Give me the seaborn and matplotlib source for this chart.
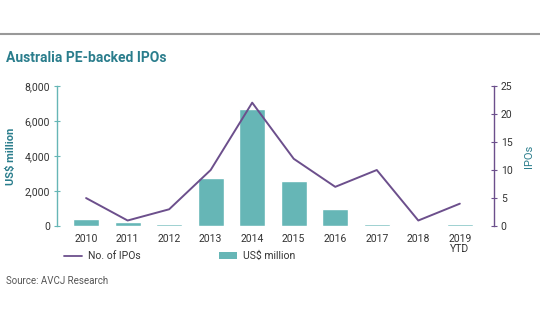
import matplotlib
matplotlib.use("Agg")
import matplotlib.pyplot as plt
import seaborn as sns
import pandas as pd
from matplotlib.lines import Line2D
from matplotlib.patches import Patch

years = ["2010", "2011", "2012", "2013", "2014", "2015", "2016", "2017", "2018", "2019\nYTD"]
usd_million = [430, 210, 130, 2740, 6690, 2570, 980, 120, 0, 120]
no_of_ipos = [5, 1, 3, 10, 22, 12, 7, 10, 1, 4]
left_ticks = [0, 2000, 4000, 6000, 8000]
right_ticks = [0, 5, 10, 15, 20, 25]

TEAL = "#66b6b6"
PURPLE = "#6c4f8c"
TITLE_C = "#2a7d8c"
TEXT_C = "#333333"

sns.set_theme(style="white")
plt.rcParams["font.family"] = ["Roboto", "DejaVu Sans"]

df = pd.DataFrame({"year": years, "usd": usd_million, "ipos": no_of_ipos})

fig = plt.figure(figsize=(5.4, 3.34), dpi=100)
ax = fig.add_axes([0.1056, 0.323, 0.809, 0.42])

sns.barplot(data=df, x="year", y="usd", color=TEAL, saturation=1, width=0.63, ax=ax)
ax.set_ylim(0, 8000)
ax.set_xlim(-0.7, 9.82)
ax.set_yticks(left_ticks)
ax.set_yticklabels([f"{v:,}" for v in left_ticks])
ax.set_xlabel("")
ax.set_ylabel("US$ million", color=TITLE_C, fontsize=8, fontweight="bold", labelpad=6)

ax2 = ax.twinx()
sns.lineplot(x=list(range(len(years))), y=no_of_ipos, color=PURPLE, linewidth=1.4, ax=ax2)
ax2.set_ylim(0, 25)
ax2.set_yticks(right_ticks)
ax2.set_ylabel("IPOs", color=TITLE_C, fontsize=8, labelpad=8)

for a in (ax, ax2):
    for s in ["top", "bottom", "left", "right"]:
        a.spines[s].set_visible(False)
ax.spines["left"].set_visible(True)
ax.spines["left"].set_color(TEAL)
ax.spines["left"].set_linewidth(1.0)
ax2.spines["right"].set_visible(True)
ax2.spines["right"].set_color(PURPLE)
ax2.spines["right"].set_linewidth(1.0)

ax.tick_params(axis="y", direction="inout", length=4, width=0.8, color=TEAL,
               labelsize=7.5, labelcolor=TEXT_C, pad=3, left=True)
ax.tick_params(axis="x", length=0, labelsize=7.5, labelcolor=TEXT_C, pad=6)
ax2.tick_params(axis="y", direction="inout", length=4, width=0.8, color=PURPLE,
                labelsize=7.5, labelcolor=TEXT_C, pad=3, right=True)
for lbl in ax.get_xticklabels():
    lbl.set_linespacing(0.95)

# Top rule and title
fig.add_artist(Line2D([0, 1], [1 - 34 / 334, 1 - 34 / 334], color="#999999", linewidth=1.5,
                      transform=fig.transFigure))
fig.text(6 / 540, 1 - 58 / 334, "Australia PE-backed IPOs", color=TITLE_C, fontsize=10,
         fontweight="bold", va="center", ha="left")

handles = [Line2D([0], [0], color=PURPLE, linewidth=1.3),
           Patch(facecolor=TEAL, edgecolor="none")]
fig.legend(handles, ["No. of IPOs", "US$ million"], loc="center left",
           bbox_to_anchor=(55 / 540, 1 - 256 / 334), ncol=2, frameon=False,
           fontsize=7.5, handlelength=1.7, handleheight=0.6, columnspacing=7.5,
           handletextpad=0.6, labelcolor=TEXT_C)

fig.text(6 / 540, 1 - 281 / 334, "Source: AVCJ Research", color="#555555", fontsize=7,
         va="center", ha="left")

fig.savefig("out.png", dpi=100)
